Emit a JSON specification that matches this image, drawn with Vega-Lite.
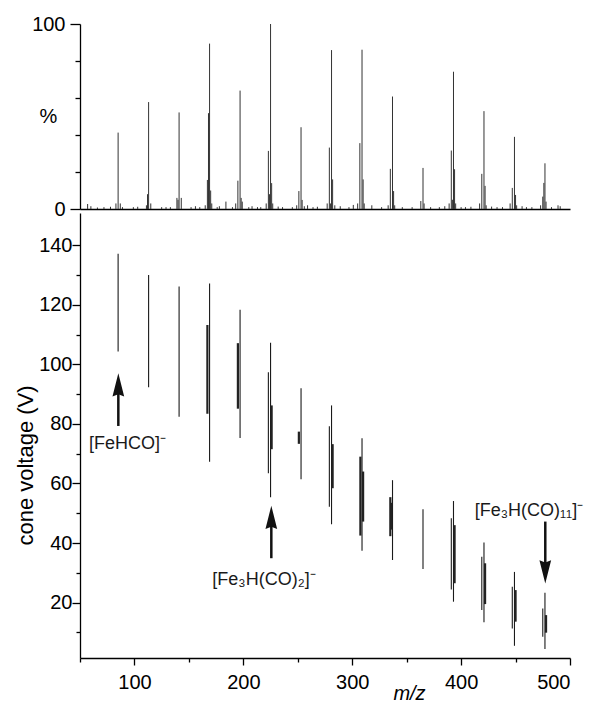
{
  "$schema": "https://vega.github.io/schema/vega-lite/v6.json",
  "padding": {"left": 14, "top": 14, "right": 5, "bottom": 5},
  "background": "white",
  "spacing": 4,
  "bounds": "flush",
  "config": {
    "font": "Liberation Sans",
    "view": {"stroke": null},
    "axis": {
      "domainColor": "black", "tickColor": "black", "domainWidth": 1.3, "tickWidth": 1.3,
      "labelFont": "Liberation Sans", "labelFontSize": 20, "labelColor": "black",
      "titleFont": "Liberation Sans", "titleFontSize": 20, "titleColor": "black", "titleFontWeight": "normal",
      "grid": false
    }
  },
  "datasets": {
    "spectrum": [
      {"mz": 57, "pct": 2.7}, {"mz": 60, "pct": 1.5}, {"mz": 66, "pct": 0.8}, {"mz": 72, "pct": 1}, {"mz": 78, "pct": 1.2},
      {"mz": 83, "pct": 3}, {"mz": 85, "pct": 41.3}, {"mz": 87, "pct": 3}, {"mz": 89, "pct": 1},
      {"mz": 99, "pct": 1}, {"mz": 103, "pct": 1.2}, {"mz": 111, "pct": 2}, {"mz": 112, "pct": 8}, {"mz": 113, "pct": 57.8}, {"mz": 115, "pct": 3},
      {"mz": 125, "pct": 1}, {"mz": 129, "pct": 1}, {"mz": 133, "pct": 1}, {"mz": 139, "pct": 6}, {"mz": 140, "pct": 5}, {"mz": 141, "pct": 52.2}, {"mz": 143, "pct": 6},
      {"mz": 152, "pct": 1}, {"mz": 156, "pct": 1.5}, {"mz": 160, "pct": 1}, {"mz": 165, "pct": 2},
      {"mz": 167, "pct": 15.7}, {"mz": 168, "pct": 51.8}, {"mz": 169, "pct": 89.4}, {"mz": 170, "pct": 10}, {"mz": 171, "pct": 3},
      {"mz": 176, "pct": 1}, {"mz": 178, "pct": 1.5}, {"mz": 184, "pct": 4}, {"mz": 190, "pct": 1}, {"mz": 193, "pct": 3},
      {"mz": 195, "pct": 15.3}, {"mz": 197, "pct": 64}, {"mz": 198, "pct": 6}, {"mz": 199, "pct": 4},
      {"mz": 205, "pct": 1}, {"mz": 208, "pct": 1.5}, {"mz": 213, "pct": 1}, {"mz": 216, "pct": 1}, {"mz": 221, "pct": 3},
      {"mz": 223, "pct": 31.4}, {"mz": 224, "pct": 8}, {"mz": 225, "pct": 100}, {"mz": 226, "pct": 14}, {"mz": 227, "pct": 3},
      {"mz": 232, "pct": 1.3}, {"mz": 236, "pct": 1}, {"mz": 245, "pct": 1}, {"mz": 249, "pct": 2},
      {"mz": 251, "pct": 9.7}, {"mz": 253, "pct": 44.2}, {"mz": 254, "pct": 4.9}, {"mz": 256, "pct": 1.5},
      {"mz": 259, "pct": 2}, {"mz": 264, "pct": 1}, {"mz": 268, "pct": 1.2}, {"mz": 277, "pct": 3},
      {"mz": 279, "pct": 33.2}, {"mz": 280, "pct": 3}, {"mz": 281, "pct": 85.9}, {"mz": 282, "pct": 16}, {"mz": 284, "pct": 2},
      {"mz": 289, "pct": 1.5}, {"mz": 297, "pct": 1}, {"mz": 301, "pct": 2.2}, {"mz": 305, "pct": 3},
      {"mz": 307, "pct": 35.6}, {"mz": 309, "pct": 86.1}, {"mz": 310, "pct": 16}, {"mz": 311, "pct": 3},
      {"mz": 318, "pct": 2}, {"mz": 327, "pct": 1}, {"mz": 333, "pct": 2},
      {"mz": 335, "pct": 21.7}, {"mz": 337, "pct": 60.8}, {"mz": 338, "pct": 9.7}, {"mz": 339, "pct": 2},
      {"mz": 346, "pct": 1}, {"mz": 355, "pct": 1}, {"mz": 363, "pct": 4.3}, {"mz": 365, "pct": 22.2}, {"mz": 366, "pct": 3},
      {"mz": 372, "pct": 1}, {"mz": 380, "pct": 1}, {"mz": 385, "pct": 1.5}, {"mz": 389, "pct": 3},
      {"mz": 391, "pct": 31.6}, {"mz": 392, "pct": 5}, {"mz": 393, "pct": 74.2}, {"mz": 394, "pct": 21.5}, {"mz": 395, "pct": 3},
      {"mz": 400, "pct": 1}, {"mz": 404, "pct": 1}, {"mz": 409, "pct": 1.2}, {"mz": 417, "pct": 3},
      {"mz": 419, "pct": 19}, {"mz": 421, "pct": 52.9}, {"mz": 422, "pct": 12.5}, {"mz": 423, "pct": 2},
      {"mz": 428, "pct": 1.3}, {"mz": 433, "pct": 1}, {"mz": 438, "pct": 1}, {"mz": 445, "pct": 3},
      {"mz": 447, "pct": 11.4}, {"mz": 449, "pct": 39}, {"mz": 450, "pct": 7.6}, {"mz": 451, "pct": 2},
      {"mz": 456, "pct": 1.5}, {"mz": 460, "pct": 1}, {"mz": 465, "pct": 1}, {"mz": 473, "pct": 2},
      {"mz": 475, "pct": 6.7}, {"mz": 476, "pct": 14.1}, {"mz": 477, "pct": 24.7}, {"mz": 478, "pct": 4},
      {"mz": 483, "pct": 1}, {"mz": 489, "pct": 2}, {"mz": 491, "pct": 1.5}
    ],
    "voltThin": [
      {"mz": 85, "v": 104.3, "v2": 137.1},
      {"mz": 113, "v": 92.3, "v2": 130.0},
      {"mz": 141, "v": 82.4, "v2": 126.1},
      {"mz": 169, "v": 67.3, "v2": 127.1},
      {"mz": 197, "v": 75.3, "v2": 118.3},
      {"mz": 225, "v": 55.4, "v2": 107.2},
      {"mz": 223, "v": 63.4, "v2": 97.3},
      {"mz": 253, "v": 61.4, "v2": 92.0},
      {"mz": 281, "v": 46.3, "v2": 86.2},
      {"mz": 279, "v": 52.2, "v2": 79.2},
      {"mz": 309, "v": 37.4, "v2": 75.2},
      {"mz": 337, "v": 34.3, "v2": 61.1},
      {"mz": 365, "v": 31.3, "v2": 51.3},
      {"mz": 393, "v": 20.3, "v2": 54.1},
      {"mz": 391, "v": 24.4, "v2": 48.3},
      {"mz": 421, "v": 13.4, "v2": 40.2},
      {"mz": 419, "v": 17.5, "v2": 35.4},
      {"mz": 449, "v": 5.5, "v2": 30.3},
      {"mz": 447, "v": 11.3, "v2": 25.3},
      {"mz": 477, "v": 4.4, "v2": 23.3},
      {"mz": 475, "v": 8.5, "v2": 18.0}
    ],
    "voltThick": [
      {"mz": 167, "v": 83.4, "v2": 113.2},
      {"mz": 195, "v": 85.1, "v2": 107.1},
      {"mz": 226, "v": 71.5, "v2": 86.2},
      {"mz": 251, "v": 73.3, "v2": 77.4},
      {"mz": 282, "v": 58.4, "v2": 73.2},
      {"mz": 307.5, "v": 42.5, "v2": 69.0},
      {"mz": 310, "v": 47.2, "v2": 64.0},
      {"mz": 335, "v": 42.3, "v2": 55.4},
      {"mz": 336, "v": 44.5, "v2": 53.5},
      {"mz": 394, "v": 26.5, "v2": 46.0},
      {"mz": 422, "v": 19.5, "v2": 33.2},
      {"mz": 450, "v": 13.6, "v2": 24.2},
      {"mz": 478, "v": 9.9, "v2": 15.8}
    ],
    "arrows": [
      {"mz": 85.2, "v": 93.1, "v2": 79.3, "dir": "up"},
      {"mz": 225.7, "v": 48.6, "v2": 34.9, "dir": "up"},
      {"mz": 477.3, "v": 30.3, "v2": 47.2, "dir": "down"}
    ],
    "labels": [
      {"mz": 93.6, "v": 73.4, "label": "[FeHCO]⁻"},
      {"mz": 219, "v": 27.6, "label": "[Fe₃H(CO)₂]⁻"},
      {"mz": 462.3, "v": 50.8, "label": "[Fe₃H(CO)₁₁]⁻"}
    ]
  },
  "vconcat": [
    {
      "width": 490,
      "height": 185,
      "data": {"name": "spectrum"},
      "mark": {"type": "rule", "color": "#333333", "strokeWidth": 1},
      "encoding": {
        "x": {
          "field": "mz", "type": "quantitative",
          "scale": {"domain": [50, 500], "nice": false, "zero": false},
          "axis": {"title": null, "labels": false, "ticks": false, "domain": true}
        },
        "y": {
          "field": "pct", "type": "quantitative",
          "scale": {"domain": [0, 100], "nice": false},
          "axis": {
            "title": "%",
            "values": [0, 20, 40, 60, 80, 100],
            "labelExpr": "datum.value == 0 || datum.value == 100 ? datum.label : ''",
            "tickSize": {"condition": {"test": "datum.value == 0 || datum.value == 100", "value": 10}, "value": 5},
            "labelPadding": 5,
            "titleAngle": 0, "titleX": -32, "titleY": 92, "titleAlign": "center", "titleBaseline": "middle"
          }
        },
        "y2": {"datum": 0}
      }
    },
    {
      "width": 490,
      "height": 445,
      "encoding": {
        "x": {
          "field": "mz", "type": "quantitative",
          "scale": {"domain": [50, 500], "nice": false, "zero": false},
          "axis": {
            "title": "m/z",
            "values": [50, 100, 150, 200, 250, 300, 350, 400, 450, 500],
            "labelExpr": "datum.value % 100 == 0 ? datum.label : ''",
            "tickSize": {"condition": {"test": "datum.value % 100 == 0", "value": 7}, "value": 4},
            "labelPadding": 7,
            "titleFontStyle": "italic", "titleX": 329, "titleY": 41, "titleBaseline": "alphabetic", "titleAlign": "center"
          }
        },
        "y": {
          "field": "v", "type": "quantitative",
          "scale": {"domain": [1.4, 150.8], "nice": false, "zero": false},
          "axis": {
            "title": "cone voltage (V)",
            "values": [10, 20, 30, 40, 50, 60, 70, 80, 90, 100, 110, 120, 130, 140],
            "labelExpr": "datum.value % 20 == 0 ? datum.label : ''",
            "tickSize": {"condition": {"test": "datum.value % 20 == 0", "value": 8}, "value": 4},
            "labelPadding": 0,
            "titleFontSize": 22, "titleX": -55, "titleY": 252, "titleAlign": "center", "titleBaseline": "middle"
          }
        }
      },
      "layer": [
        {
          "data": {"name": "voltThin"},
          "mark": {"type": "rule", "color": "#1a1a1a", "strokeWidth": 1.1},
          "encoding": {"y2": {"field": "v2"}}
        },
        {
          "data": {"name": "voltThick"},
          "mark": {"type": "rule", "color": "#222222", "strokeWidth": 2.2},
          "encoding": {"y2": {"field": "v2"}}
        },
        {
          "data": {"name": "arrows"},
          "mark": {"type": "rule", "color": "#111111", "strokeWidth": 2.5},
          "encoding": {"y2": {"field": "v2"}}
        },
        {
          "data": {"name": "arrows"},
          "transform": [{"filter": "datum.dir == 'up'"}],
          "mark": {"type": "point", "shape": "M0,-1L0.5,1L0,0.8L-0.5,1Z", "size": 548, "filled": true, "color": "#111111", "opacity": 1}
        },
        {
          "data": {"name": "arrows"},
          "transform": [{"filter": "datum.dir == 'down'"}],
          "mark": {"type": "point", "shape": "M0,1L0.5,-1L0,-0.8L-0.5,-1Z", "size": 548, "filled": true, "color": "#111111", "opacity": 1}
        },
        {
          "data": {"name": "labels"},
          "mark": {"type": "text", "fontSize": 18, "font": "Liberation Sans", "color": "#1a1a1a", "align": "center", "baseline": "middle"},
          "encoding": {"text": {"field": "label"}}
        }
      ]
    }
  ]
}
